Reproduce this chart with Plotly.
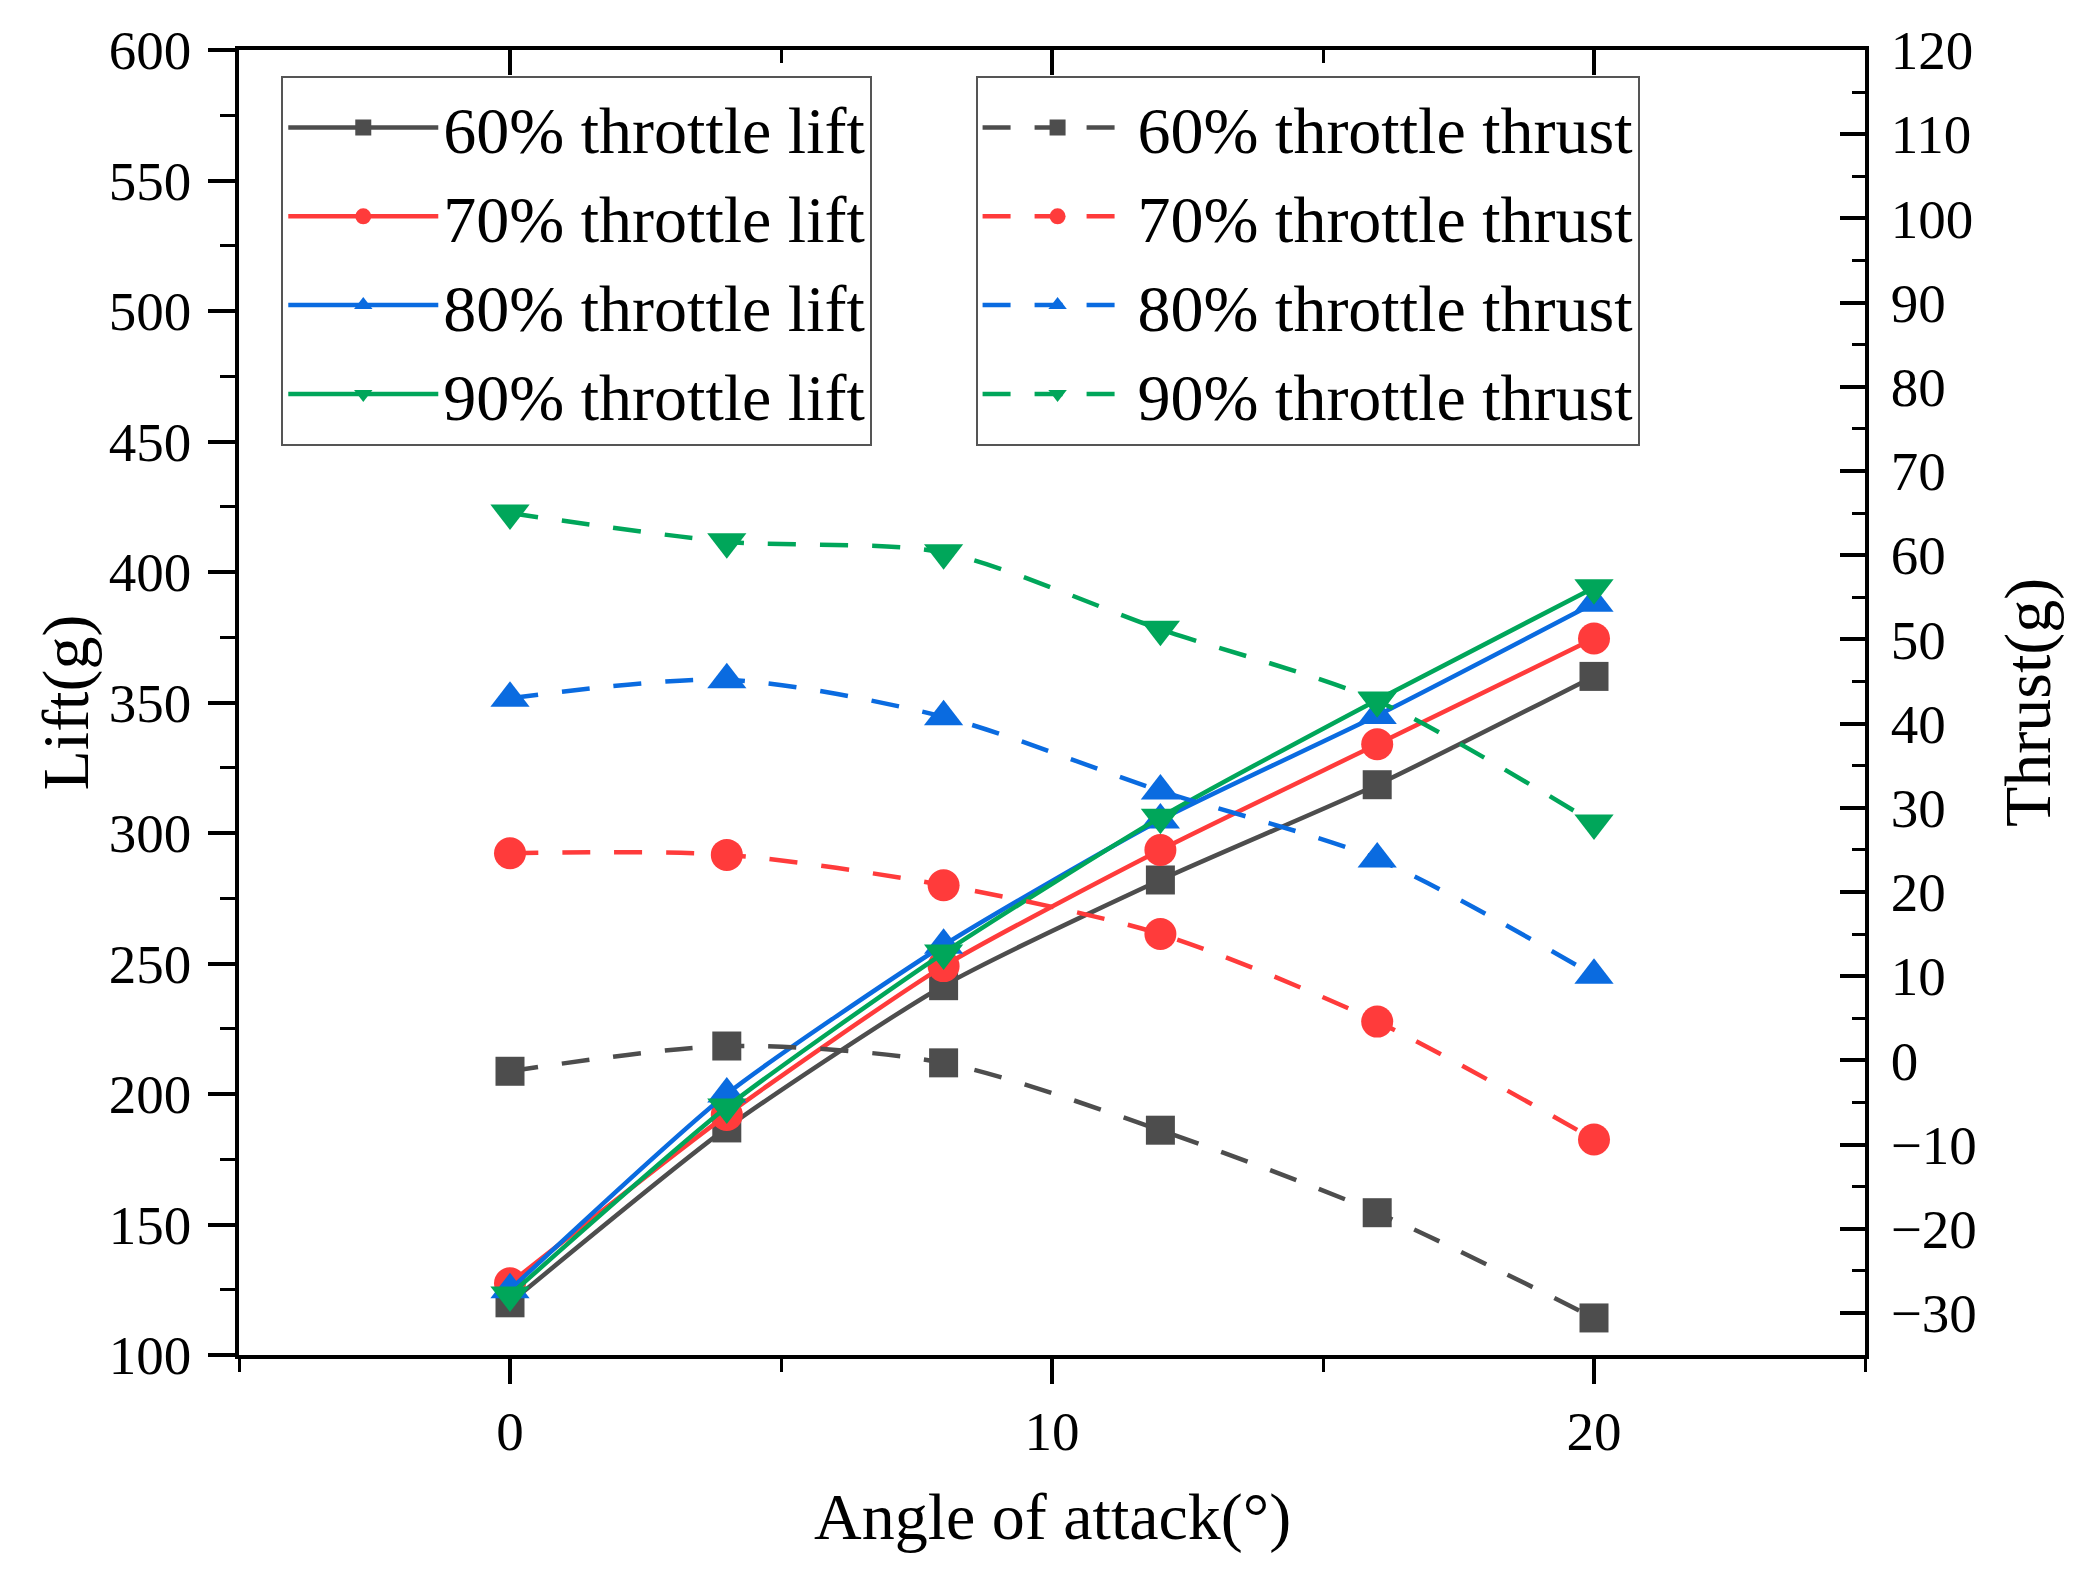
import plotly.graph_objects as go

# ---- data ----
angles = [0, 4, 8, 12, 16, 20]

lift_60 = [120, 187, 241.5, 282, 318.5, 360]
lift_70 = [127.5, 192, 249, 293.5, 334, 374.5]
lift_80 = [125, 200, 257, 305, 345, 388]
lift_90 = [123, 195, 254, 306, 351, 394]

thrust_60 = [-1.3, 1.7, -0.3, -8.3, -18.1, -30.6]
thrust_70 = [24.6, 24.4, 20.8, 15.0, 4.6, -9.4]
thrust_80 = [43.0, 45.2, 40.8, 32.0, 23.9, 10.1]
thrust_90 = [65.0, 61.6, 60.3, 51.2, 42.7, 28.2]

lift_names = ["60% throttle lift", "70% throttle lift", "80% throttle lift", "90% throttle lift"]
thrust_names = ["60% throttle thrust", "70% throttle thrust", "80% throttle thrust", "90% throttle thrust"]

colors = ["#4D4D4D", "#FF3B3B", "#0A6BE0", "#00A65A"]
symbols = ["square", "circle", "triangle-up", "triangle-down"]
msizes = [29, 32, 34, 34]

FONT = "Liberation Serif"

fig = go.Figure()

lifts = [lift_60, lift_70, lift_80, lift_90]
thrusts = [thrust_60, thrust_70, thrust_80, thrust_90]

for i in range(4):
    fig.add_trace(go.Scatter(
        x=angles, y=thrusts[i], name=thrust_names[i], mode="lines+markers",
        line=dict(color=colors[i], width=4.5, dash="28px,24px", shape="spline", smoothing=0.8),
        marker=dict(symbol=symbols[i], size=msizes[i], color=colors[i]),
        yaxis="y2", legend="legend2"))

for i in range(4):
    fig.add_trace(go.Scatter(
        x=angles, y=lifts[i], name=lift_names[i], mode="lines+markers",
        line=dict(color=colors[i], width=4.5, shape="spline", smoothing=0.6),
        marker=dict(symbol=symbols[i], size=msizes[i], color=colors[i]),
        yaxis="y", legend="legend"))

# invisible trace to bring the top axis to life
fig.add_trace(go.Scatter(x=[None], y=[None], xaxis="x2", yaxis="y", showlegend=False, hoverinfo="skip"))

tickfont = dict(family=FONT, size=55, color="black")
minor_common = dict(tickwidth=3, tickcolor="black", showgrid=False)

fig.update_layout(
    width=2084, height=1571,
    margin=dict(l=231, r=227, t=42, b=224),
    paper_bgcolor="white", plot_bgcolor="white",
    font=dict(family=FONT, color="black"),
    xaxis=dict(range=[-5, 25], tick0=0, dtick=10, ticks="outside", ticklen=25, tickwidth=3.5,
               tickcolor="black", showline=True, linewidth=3.5, linecolor="black",
               showgrid=False, zeroline=False, tickfont=tickfont, ticklabelstandoff=0,
               minor=dict(dtick=5, tick0=0, ticks="outside", ticklen=13, **minor_common)),
    xaxis2=dict(range=[-5, 25], overlaying="x", side="top", tick0=0, dtick=10, ticks="inside", ticklen=25,
                tickwidth=3.5, tickcolor="black", showline=True, linewidth=3.5, linecolor="black",
                showgrid=False, zeroline=False, showticklabels=False,
                minor=dict(dtick=5, tick0=0, ticks="inside", ticklen=13, **minor_common)),
    yaxis=dict(range=[100, 600], tick0=100, dtick=50, ticks="outside", ticklen=27, tickwidth=3.5,
               tickcolor="black", showline=True, linewidth=3.5, linecolor="black",
               showgrid=False, zeroline=False, tickfont=tickfont, ticklabelstandoff=6,
               minor=dict(dtick=25, tick0=100, ticks="outside", ticklen=15, **minor_common)),
    yaxis2=dict(range=[-35, 120], overlaying="y", side="right", tick0=0, dtick=10, ticks="inside", ticklen=25,
                tickwidth=3.5, tickcolor="black", showline=True, linewidth=3.5, linecolor="black",
                showgrid=False, zeroline=False, tickfont=tickfont, ticklabelstandoff=11,
                minor=dict(dtick=5, tick0=0, ticks="inside", ticklen=13, **minor_common)),
    legend=dict(x=0.026, y=0.98, xanchor="left", yanchor="top", bgcolor="white",
                bordercolor="#555555", borderwidth=2, font=dict(family=FONT, size=66, color="black"),
                itemwidth=150, tracegroupgap=0),
    legend2=dict(x=0.453, y=0.98, xanchor="left", yanchor="top", bgcolor="white",
                 bordercolor="#555555", borderwidth=2, font=dict(family=FONT, size=66, color="black"),
                 itemwidth=150, tracegroupgap=0),
    annotations=[
        dict(text="Angle of attack(°)", x=0.5, y=-0.124, xref="paper", yref="paper",
             showarrow=False, font=dict(family=FONT, size=66), xanchor="center", yanchor="middle"),
        dict(text="Lift(g)", x=-0.107, y=0.5, xref="paper", yref="paper", textangle=-90,
             showarrow=False, font=dict(family=FONT, size=66), xanchor="center", yanchor="middle"),
        dict(text="Thrust(g)", x=1.10, y=0.5, xref="paper", yref="paper", textangle=-90,
             showarrow=False, font=dict(family=FONT, size=66), xanchor="center", yanchor="middle"),
    ],
)

fig.write_html("out.html")
